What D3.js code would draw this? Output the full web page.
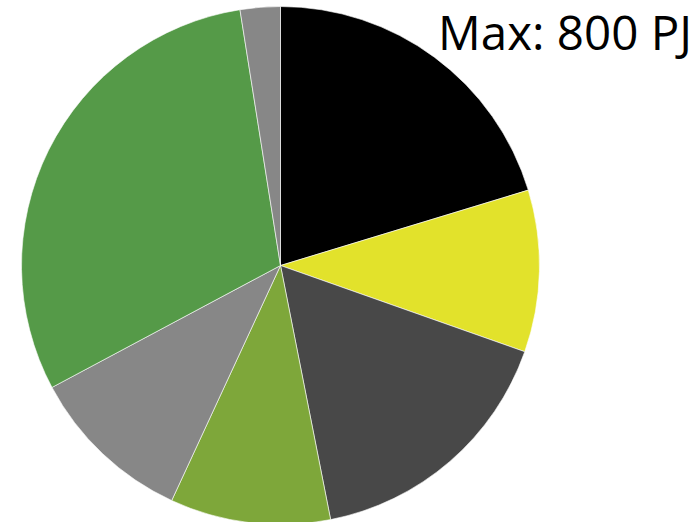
<!DOCTYPE html>
<html><head><meta charset="utf-8">
<script src="https://cdn.jsdelivr.net/npm/d3@7"></script>
<style>html,body{margin:0;padding:0;background:#fff;overflow:hidden}</style>
</head><body>
<svg id="c" width="698" height="522"></svg>
<script>
const categories = ["A","B","C","D","E","F","G"];
const values = [20.3, 10.1, 16.5, 10.0, 10.3, 30.3, 2.5];
const colors = ["#000000","#E2E22B","#484848","#7EA73A","#878787","#559A48","#878787"];
const title = "Max: 800 PJ";

const svg = d3.select("#c");
const cx = 280.5, cy = 265.5, r = 259;
const pie = d3.pie().sort(null).value(d => d.v);
const arc = d3.arc().innerRadius(0).outerRadius(r);
const data = categories.map((c,i)=>({c, v: values[i], col: colors[i]}));
svg.append("g").attr("transform",`translate(${cx},${cy})`)
  .selectAll("path").data(pie(data)).join("path")
  .attr("d", arc).attr("fill", d=>d.data.col)
  .attr("stroke","#fff").attr("stroke-width",0.6);
svg.append("text").attr("x",692).attr("y",50).attr("text-anchor","end")
  .attr("font-family","'Open Sans', sans-serif").attr("font-size",47.5).attr("fill","#000")
  .text(title);
</script>
</body></html>
